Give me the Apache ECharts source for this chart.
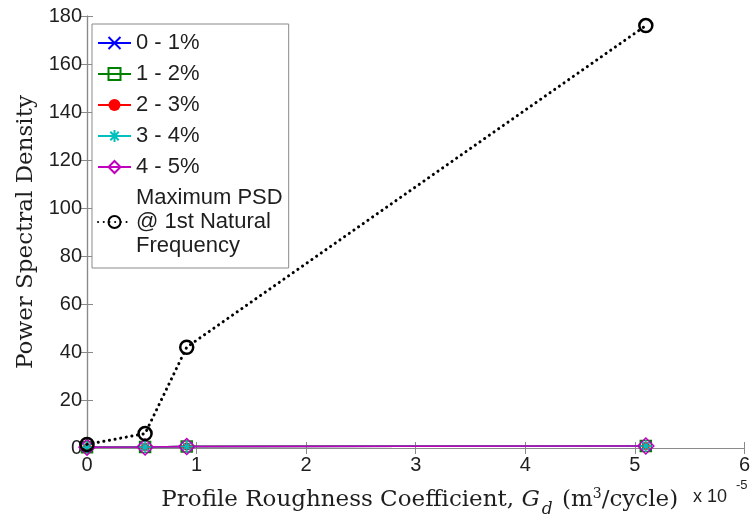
<!DOCTYPE html>
<html>
<head>
<meta charset="utf-8">
<script src="https://cdn.jsdelivr.net/npm/echarts@6/dist/echarts.min.js"></script>
<style>
html,body{margin:0;padding:0;background:#fff;}
#chart{width:753px;height:524px;}
</style>
</head>
<body>
<div id="chart"></div>
<script>
// ---- data ----
const xGd = [0, 0.53, 0.91, 5.1];           // Profile roughness coefficient (x 10^-5)
const damp01 = [0.3, 0.4, 0.6, 0.8];        // 0 - 1%
const damp12 = [0.3, 0.4, 0.6, 0.8];        // 1 - 2%
const damp23 = [0.3, 0.4, 0.6, 0.8];        // 2 - 3%
const damp34 = [0.3, 0.45, 0.65, 0.85];     // 3 - 4%
const damp45 = [0.3, 0.45, 0.65, 0.85];     // 4 - 5%
const psdMax = [1.5, 6, 42, 176];           // Maximum PSD @ 1st natural frequency
const seriesNames = ['0 - 1%', '1 - 2%', '2 - 3%', '3 - 4%', '4 - 5%', 'Maximum PSD\n@ 1st Natural\nFrequency'];
const xTicks = [0, 1, 2, 3, 4, 5, 6];
const yTicks = [0, 20, 40, 60, 80, 100, 120, 140, 160, 180];

const pairs = arr => xGd.map((x, i) => [x, arr[i]]);

const chart = echarts.init(document.getElementById('chart'), null, {renderer: 'canvas'});
const axisGray = '#8a8a8a';
const txt = '#1e1e1e';
const sans = '"Liberation Sans", Arial, sans-serif';
const serif = '"DejaVu Serif", "Liberation Serif", serif';

function mk(name, data, color, symbol, size, fill, bw, lineStyle, z) {
  return {
    name: name, type: 'line', data: pairs(data),
    symbol: symbol, symbolSize: size, symbolKeepAspect: true,
    showAllSymbol: true,
    lineStyle: Object.assign({color: color, width: 1.5}, lineStyle || {}),
    itemStyle: {color: fill, borderColor: color, borderWidth: bw},
    emphasis: {disabled: true}, animation: false, z: z || 2
  };
}

const option = {
  animation: false,
  grid: {left: 87, right: 8, top: 16, bottom: 76, containLabel: false},
  legend: {
    orient: 'vertical', left: 92, top: 24,
    data: seriesNames,
    itemWidth: 33, itemHeight: 15, itemGap: 7,
    padding: [7, 6, 10, 5],
    backgroundColor: '#fff', borderColor: axisGray, borderWidth: 1,
    textStyle: {fontFamily: sans, fontSize: 22, color: txt, lineHeight: 24},
    selectedMode: false
  },
  xAxis: [{
    type: 'value', min: 0, max: 6, interval: 1,
    axisLine: {lineStyle: {color: axisGray, width: 1.2}},
    axisTick: {inside: true, length: 6, lineStyle: {color: axisGray}},
    splitLine: {show: false},
    axisLabel: {fontFamily: sans, fontSize: 20, color: txt, margin: 7,
      formatter: v => xTicks.indexOf(v) >= 0 ? String(v) : ''},
    name: '{r|Profile Roughness Coefficient, }{i|G}{s|d}{r| (m}{p|3}{r|/cycle)}',
    nameLocation: 'middle', nameGap: 35,
    nameTextStyle: {
      padding: [0, 0, 0, 8],
      rich: {
        r: {fontFamily: serif, fontSize: 23, color: txt},
        i: {fontFamily: serif, fontSize: 23, color: txt, fontStyle: 'italic'},
        s: {fontFamily: serif, fontSize: 17, color: txt, fontStyle: 'italic', padding: [18, 2, 0, 2]},
        p: {fontFamily: serif, fontSize: 14, color: txt, padding: [0, 0, 12, 0]}
      }
    }
  }, {
    type: 'value', min: 0, max: 6, interval: 1, position: 'top',
    axisLine: {lineStyle: {color: axisGray, width: 1.2}},
    axisTick: {inside: true, length: 6, lineStyle: {color: axisGray}},
    axisLabel: {show: false}, splitLine: {show: false}
  }],
  yAxis: [{
    type: 'value', min: 0, max: 180, interval: 20,
    axisLine: {show: true, lineStyle: {color: axisGray, width: 1.2}},
    axisTick: {show: true, inside: true, length: 6, lineStyle: {color: axisGray}},
    splitLine: {show: false},
    axisLabel: {fontFamily: sans, fontSize: 20, color: txt, margin: 5,
      formatter: v => yTicks.indexOf(v) >= 0 ? String(v) : ''},
    name: 'Power Spectral Density', nameLocation: 'middle', nameGap: 38,
    nameTextStyle: {fontFamily: serif, fontSize: 23, color: txt}
  }, {
    type: 'value', min: 0, max: 180, interval: 20, position: 'right',
    axisLine: {show: true, lineStyle: {color: axisGray, width: 1.2}},
    axisTick: {show: true, inside: true, length: 6, lineStyle: {color: axisGray}},
    axisLabel: {show: false}, splitLine: {show: false}
  }],
  graphic: [{
    type: 'text', left: 693, top: 488, silent: true,
    style: {text: 'x 10', fontFamily: sans, fontSize: 18, fill: txt}
  }, {
    type: 'text', left: 736, top: 479, silent: true,
    style: {text: '-5', fontFamily: sans, fontSize: 13, fill: txt}
  }],
  series: [
    mk(seriesNames[0], damp01, '#0000ff', 'path://M0,0L10,10M0,10L10,0', 10, 'transparent', 1.5),
    mk(seriesNames[1], damp12, '#008000', 'rect', 11, 'transparent', 1.5),
    mk(seriesNames[2], damp23, '#ff0000', 'circle', 8, '#ff0000', 0),
    mk(seriesNames[3], damp34, '#00bfbf', 'path://M5,0L5,10M0,5L10,5M1.5,1.5L8.5,8.5M1.5,8.5L8.5,1.5', 12, 'transparent', 1.5),
    mk(seriesNames[4], damp45, '#bf00bf', 'diamond', 16, 'transparent', 1.5),
    mk(seriesNames[5], psdMax, '#000000', 'circle', 13, 'transparent', 2.5,
       {type: [0.1, 5.6], width: 3, cap: 'round'}, 3)
  ]
};
chart.setOption(option);
</script>
</body>
</html>
